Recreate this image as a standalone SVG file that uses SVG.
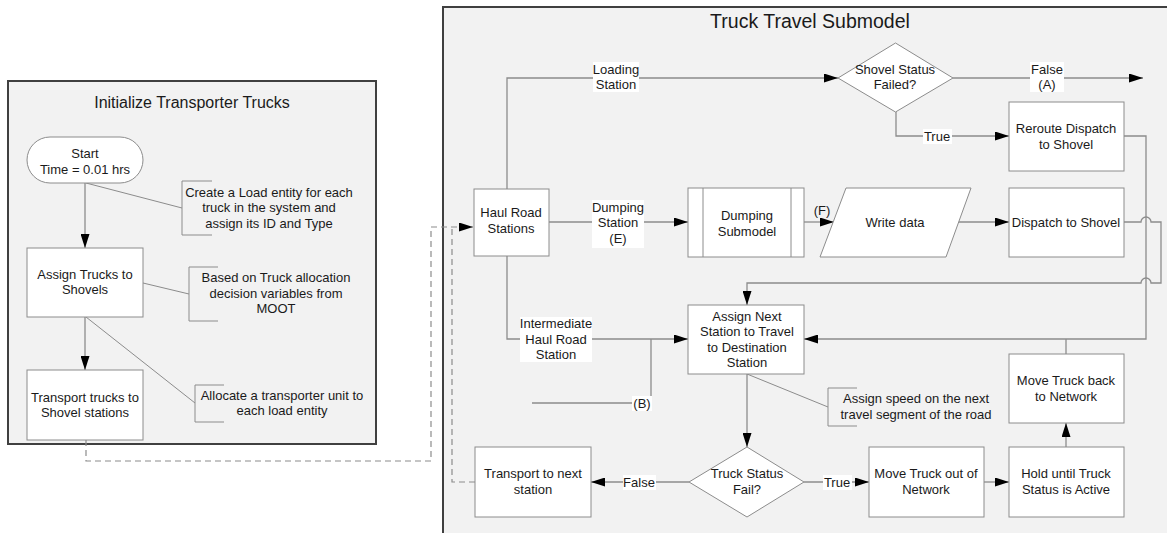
<svg xmlns="http://www.w3.org/2000/svg" width="1167" height="533" viewBox="0 0 1167 533">
<defs>
<marker id="arr" markerWidth="14" markerHeight="9" refX="14" refY="4.5" orient="auto" markerUnits="userSpaceOnUse">
<path d="M0,0 L14,4.5 L0,9 z" fill="#000"/>
</marker>
<style>
text{font-family:"Liberation Sans",Arial,sans-serif;font-size:13px;fill:#1a1a1a;text-anchor:middle}
.title{font-size:16px}
.title2{font-size:19.5px}
.box{fill:#fff;stroke:#8c8c8c;stroke-width:1}
.panel{fill:#f2f2f2;stroke:#404040;stroke-width:2}
.ln{fill:none;stroke:#8c8c8c;stroke-width:1.3}
.ar{marker-end:url(#arr)}
.dash{fill:none;stroke:#8c8c8c;stroke-width:1.2;stroke-dasharray:6,4}
.note{fill:none;stroke:#8c8c8c;stroke-width:1}
.lbl{fill:#fff;stroke:none}
</style>
</defs>
<rect width="1167" height="533" fill="#fff"/>

<g id="panel-left">
<rect class="panel" x="8" y="81" width="368" height="363"/>
<text class="title" x="192" y="108">Initialize Transporter Trucks</text>
</g>
<g id="panel-right">
<rect class="panel" x="443" y="7" width="740" height="545"/>
<text class="title2" x="810" y="28">Truck Travel Submodel</text>
</g>

<g id="connectors">
<path class="ln ar" d="M85,183 V248"/>
<path class="ln ar" d="M85,317 V370"/>
<path class="note" d="M86,183 L182,208"/>
<path class="note" d="M143,283 L189,294"/>
<path class="note" d="M86,317 L195,403"/>
<path class="dash ar" d="M86,440 V461 H431 V227 H473"/>
<path class="dash" d="M475,482 H452 V227"/>
<path class="ln ar" d="M507,189 V78 H838"/>
<path class="ln ar" d="M953,78 H1143"/>
<path class="ln ar" d="M896,112 V136 H1009"/>
<path class="ln ar" d="M1124,136 H1146 V339 H804"/>
<path class="ln" d="M1066,354 V339"/>
<path class="ln ar" d="M1124,222 H1141 A5,5 0 0 1 1151,222 H1161 V283 H1151 A5,5 0 0 0 1141,283 H747 V305"/>
<path class="ln ar" d="M549,222 H688"/>
<path class="ln ar" d="M804,222 H834"/>
<path class="ln ar" d="M958,222 H1009"/>
<path class="ln ar" d="M507,256 V339 H688"/>
<path class="ln" d="M532,403 H651 V339"/>
<path class="ln ar" d="M747,374 V447"/>
<path class="note" d="M747,374 L828,407"/>
<path class="ln ar" d="M689,482 H591"/>
<path class="ln ar" d="M804,482 H869"/>
<path class="ln ar" d="M984,482 H1009"/>
<path class="ln ar" d="M1066,447 V423"/>

<rect class="lbl" x="593" y="62" width="46" height="30"/>
<text x="616" y="73.5">Loading</text>
<text x="616" y="88.5">Station</text>
<rect class="lbl" x="1030" y="62" width="34" height="30"/>
<text x="1047" y="73.5">False</text>
<text x="1047" y="88.5">(A)</text>
<rect class="lbl" x="923" y="129" width="29" height="15"/>
<text x="937" y="140.5">True</text>
<rect class="lbl" x="592" y="200" width="52" height="48"/>
<text x="618" y="211.5">Dumping</text>
<text x="618" y="226.5">Station</text>
<text x="618" y="242.5">(E)</text>
<text x="822" y="215">(F)</text>
<rect class="lbl" x="520" y="317" width="72" height="45"/>
<text x="556" y="327.5">Intermediate</text>
<text x="556" y="343.5">Haul Road</text>
<text x="556" y="358.5">Station</text>
<rect class="lbl" x="632" y="396" width="20" height="15"/>
<text x="642" y="407.5">(B)</text>
<rect class="lbl" x="623" y="475" width="33" height="15"/>
<text x="639" y="486.5">False</text>
<rect class="lbl" x="823" y="475" width="29" height="15"/>
<text x="837" y="486.5">True</text>
</g>

<g id="start">
<rect class="box" x="27" y="137" width="116" height="46" rx="23"/>
<text x="85" y="158">Start</text>
<text x="85" y="174">Time = 0.01 hrs</text>
</g>
<g id="note-create">
<path class="note" d="M212,181 H182 V235 H212"/>
<text x="269" y="196.5">Create a Load entity for each</text>
<text x="269" y="212">truck in the system and</text>
<text x="269" y="227.5">assign its ID and Type</text>
</g>
<g id="assign-trucks">
<rect class="box" x="27" y="248" width="116" height="69"/>
<text x="85" y="278.5">Assign Trucks to</text>
<text x="85" y="294">Shovels</text>
</g>
<g id="note-based">
<path class="note" d="M218,267 H189 V321 H218"/>
<text x="276" y="281.5">Based on Truck allocation</text>
<text x="276" y="297.5">decision variables from</text>
<text x="276" y="313">MOOT</text>
</g>
<g id="transport-trucks">
<rect class="box" x="27" y="370" width="116" height="70"/>
<text x="85" y="401.5">Transport trucks to</text>
<text x="85" y="416.5">Shovel stations</text>
</g>
<g id="note-allocate">
<path class="note" d="M224,385 H195 V422 H224"/>
<text x="282" y="399.5">Allocate a transporter unit to</text>
<text x="282" y="414.5">each load entity</text>
</g>

<g id="haul-road">
<rect class="box" x="474" y="189" width="75" height="67"/>
<text x="511" y="216.5">Haul Road</text>
<text x="511" y="232.5">Stations</text>
</g>
<g id="shovel-status">
<polygon class="box" points="838,78 895.5,43 953,78 895.5,112"/>
<text x="895" y="73.5">Shovel Status</text>
<text x="895" y="88.5">Failed?</text>
</g>
<g id="reroute">
<rect class="box" x="1009" y="102" width="115" height="69"/>
<text x="1066" y="132.5">Reroute Dispatch</text>
<text x="1066" y="148.5">to Shovel</text>
</g>
<g id="dumping">
<rect class="box" x="688" y="188" width="116" height="69"/>
<path class="note" d="M703,188 V257 M791,188 V257"/>
<text x="747" y="219.5">Dumping</text>
<text x="747" y="235.5">Submodel</text>
</g>
<g id="write-data">
<polygon class="box" points="846,188 971,188 946,257 820,257"/>
<text x="895" y="226.5">Write data</text>
</g>
<g id="dispatch">
<rect class="box" x="1009" y="188" width="115" height="69"/>
<text x="1066" y="226.5">Dispatch to Shovel</text>
</g>
<g id="assign-next">
<rect class="box" x="688" y="305" width="116" height="69"/>
<text x="747" y="320.5">Assign Next</text>
<text x="747" y="336">Station to Travel</text>
<text x="747" y="351.5">to Destination</text>
<text x="747" y="366.5">Station</text>
</g>
<g id="note-speed">
<path class="note" d="M857,388 H828 V426 H857"/>
<text x="916" y="402.5">Assign speed on the next</text>
<text x="916" y="418.5">travel segment of the road</text>
</g>
<g id="move-back">
<rect class="box" x="1009" y="354" width="115" height="69"/>
<text x="1066" y="384.5">Move Truck back</text>
<text x="1066" y="400.5">to Network</text>
</g>
<g id="truck-status">
<polygon class="box" points="689,482 747,447 804,482 747,517"/>
<text x="747" y="477.5">Truck Status</text>
<text x="747" y="493.5">Fail?</text>
</g>
<g id="transport-next">
<rect class="box" x="475" y="447" width="116" height="70"/>
<text x="533" y="477.5">Transport to next</text>
<text x="533" y="493.5">station</text>
</g>
<g id="move-out">
<rect class="box" x="869" y="447" width="115" height="70"/>
<text x="926" y="477.5">Move Truck out of</text>
<text x="926" y="493.5">Network</text>
</g>
<g id="hold">
<rect class="box" x="1009" y="447" width="115" height="70"/>
<text x="1066" y="477.5">Hold until Truck</text>
<text x="1066" y="493.5">Status is Active</text>
</g>
</svg>
